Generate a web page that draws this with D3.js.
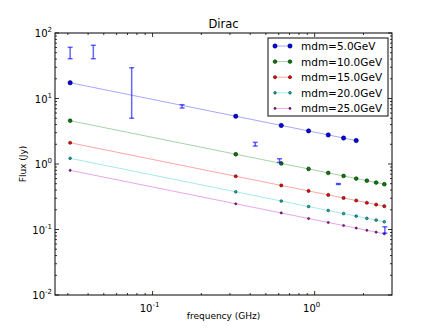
<html>
<head>
	<title>Dirac</title>
	<meta charset="utf-8">
	<script src="https://d3js.org/d3.v7.min.js"></script>
	<style>
		body { margin: 0; background: white; }
		text { font-family: "DejaVu Sans", sans-serif; fill: black; }
	</style>
</head>
<body>
	<script type="text/javascript">
		var width = 436
		var height = 329

		// model frequencies (GHz)
		var freq = [0.031, 0.326, 0.622, 0.917, 1.213, 1.508, 1.804, 2.099, 2.395, 2.69]

		// model flux (Jy) for each dark matter mass
		var flux5 = [17.4, 5.36, 3.88, 3.20, 2.78, 2.49, 2.28]
		var flux10 = [4.58, 1.41, 1.02, 0.842, 0.732, 0.657, 0.600, 0.557, 0.521, 0.492]
		var flux15 = [2.11, 0.650, 0.471, 0.388, 0.337, 0.303, 0.277, 0.256, 0.240, 0.227]
		var flux20 = [1.22, 0.376, 0.272, 0.224, 0.195, 0.175, 0.160, 0.148, 0.139, 0.131]
		var flux25 = [0.80, 0.247, 0.179, 0.147, 0.128, 0.115, 0.105, 0.0972, 0.0910, 0.0859]

		var labels = ["mdm=5.0GeV", "mdm=10.0GeV", "mdm=15.0GeV", "mdm=20.0GeV", "mdm=25.0GeV"]
		var colors = ["#0000ff", "#008000", "#ff0000", "#00bfbf", "#bf00bf"]
		var markerR = [2.2, 1.9, 1.6, 1.35, 1.1]

		// observed points with error bars
		var obsFreq = [0.031, 0.0431, 0.0743, 0.152, 0.430, 0.607, 1.40, 2.71]
		var obsFlux = [50.5, 52.7, 17.25, 7.6, 2.01, 1.13, 0.495, 0.099]
		var obsErr = [10, 12.2, 12.25, 0.44, 0.13, 0.073, 0.008, 0.011]

		var xTickVals = [0.1, 1]
		var xTickLabels = [["10", "-1"], ["10", "0"]]
		var yTickVals = [0.01, 0.1, 1, 10, 100]
		var yTickLabels = [["10", "-2"], ["10", "-1"], ["10", "0"], ["10", "1"], ["10", "2"]]

		// plot box (note: "top" is reserved on window, so prefixed names)
		var pL = 55, pR = 392, pT = 33, pB = 295

		var svg = d3.select("body").append("svg")
		  .attr("width", width)
		  .attr("height", height)

		var x = d3.scaleLog().domain([0.025, 3]).range([pL, pR])
		var y = d3.scaleLog().domain([0.01, 100]).range([pB, pT])

		var series = [flux5, flux10, flux15, flux20, flux25].map(function(vals, i) {
			return {label: labels[i], color: colors[i], r: markerR[i],
				points: vals.map(function(v, j) { return [freq[j], v] })}
		})

		var line = d3.line().x(d => x(d[0])).y(d => y(d[1]))

		var plot = svg.append("g")

		// lines (light) then markers with dark edge
		series.forEach(function(s) {
			plot.append("path")
			  .attr("d", line(s.points))
			  .attr("fill", "none")
			  .attr("stroke", s.color)
			  .attr("stroke-opacity", 0.35)
			  .attr("stroke-width", 1)
			plot.selectAll(null)
			  .data(s.points)
			  .enter()
			  .append("circle")
			    .attr("cx", d => x(d[0]))
			    .attr("cy", d => y(d[1]))
			    .attr("r", s.r)
			    .attr("fill", s.color)
			    .attr("stroke", "black")
			    .attr("stroke-opacity", 0.8)
			    .attr("stroke-width", 0.6)
		})

		// error bars
		var obs = obsFreq.map(function(f, i) { return {f: f, v: obsFlux[i], e: obsErr[i]} })
		var eb = plot.selectAll("g.eb")
		  .data(obs)
		  .enter()
		  .append("g")
		    .attr("stroke", "#0000ff")
		    .attr("stroke-opacity", 0.6)
		    .attr("stroke-width", 1.5)
		eb.append("line")
		  .attr("x1", d => x(d.f)).attr("x2", d => x(d.f))
		  .attr("y1", d => y(d.v - d.e)).attr("y2", d => y(d.v + d.e))
		eb.append("line")
		  .attr("x1", d => x(d.f) - 2.5).attr("x2", d => x(d.f) + 2.5)
		  .attr("y1", d => y(d.v - d.e)).attr("y2", d => y(d.v - d.e))
		eb.append("line")
		  .attr("x1", d => x(d.f) - 2.5).attr("x2", d => x(d.f) + 2.5)
		  .attr("y1", d => y(d.v + d.e)).attr("y2", d => y(d.v + d.e))

		// ticks (inside, all four sides)
		function minors(lo, hi) {
			var out = []
			for (var e = Math.floor(Math.log10(lo)); e <= Math.ceil(Math.log10(hi)); e++)
				for (var k = 2; k <= 9; k++) {
					var v = k * Math.pow(10, e)
					if (v > lo && v < hi) out.push(v)
				}
			return out
		}
		var ticks = svg.append("g").attr("stroke", "black").attr("stroke-width", 0.8)
		xTickVals.concat(minors(0.025, 3)).forEach(function(v) {
			var len = xTickVals.indexOf(v) >= 0 ? 4 : 2
			ticks.append("line").attr("x1", x(v)).attr("x2", x(v)).attr("y1", pB).attr("y2", pB - len)
			ticks.append("line").attr("x1", x(v)).attr("x2", x(v)).attr("y1", pT).attr("y2", pT + len)
		})
		yTickVals.concat(minors(0.01, 100)).forEach(function(v) {
			var len = yTickVals.indexOf(v) >= 0 ? 4 : 2
			ticks.append("line").attr("y1", y(v)).attr("y2", y(v)).attr("x1", pL).attr("x2", pL + len)
			ticks.append("line").attr("y1", y(v)).attr("y2", y(v)).attr("x1", pR).attr("x2", pR - len)
		})

		// frame
		svg.append("rect")
		  .attr("x", pL).attr("y", pT)
		  .attr("width", pR - pL).attr("height", pB - pT)
		  .attr("fill", "none").attr("stroke", "black").attr("stroke-width", 1)

		// tick labels with superscripts
		xTickVals.forEach(function(v, i) {
			var t = svg.append("text").attr("x", x(v) - 3).attr("y", pB + 17)
			  .attr("text-anchor", "middle").attr("font-size", 10)
			t.append("tspan").text(xTickLabels[i][0])
			t.append("tspan").attr("dy", -5).attr("font-size", 7).text(xTickLabels[i][1])
		})
		yTickVals.forEach(function(v, i) {
			var t = svg.append("text").attr("x", pL - 3).attr("y", y(v) + 4)
			  .attr("text-anchor", "end").attr("font-size", 10)
			t.append("tspan").text(yTickLabels[i][0])
			t.append("tspan").attr("dy", -5).attr("font-size", 7).text(yTickLabels[i][1])
		})

		// title and axis labels
		svg.append("text").attr("x", (pL + pR) / 2).attr("y", 28)
		  .attr("text-anchor", "middle").attr("font-size", 11.5).text("Dirac")
		svg.append("text").attr("x", (pL + pR) / 2).attr("y", 319)
		  .attr("text-anchor", "middle").attr("font-size", 9).text("frequency (GHz)")
		svg.append("text")
		  .attr("transform", "translate(26," + ((pT + pB) / 2) + ") rotate(-90)")
		  .attr("text-anchor", "middle").attr("font-size", 9).text("Flux (Jy)")

		// legend
		var lg = svg.append("g")
		lg.append("rect").attr("x", 268).attr("y", 38).attr("width", 120).attr("height", 78)
		  .attr("fill", "white").attr("stroke", "#333").attr("stroke-width", 1.2)
		series.forEach(function(s, i) {
			var ly = 46 + i * 15.6
			lg.append("line").attr("x1", 275).attr("x2", 290).attr("y1", ly).attr("y2", ly)
			  .attr("stroke", s.color).attr("stroke-opacity", 0.35)
			;[275, 290].forEach(function(cx) {
				lg.append("circle").attr("cx", cx).attr("cy", ly).attr("r", s.r)
				  .attr("fill", s.color).attr("stroke", "black").attr("stroke-opacity", 0.8).attr("stroke-width", 0.6)
			})
			lg.append("text").attr("x", 301).attr("y", ly + 4).attr("font-size", 10.5).text(s.label)
		})
	</script>
</body>
</html>
